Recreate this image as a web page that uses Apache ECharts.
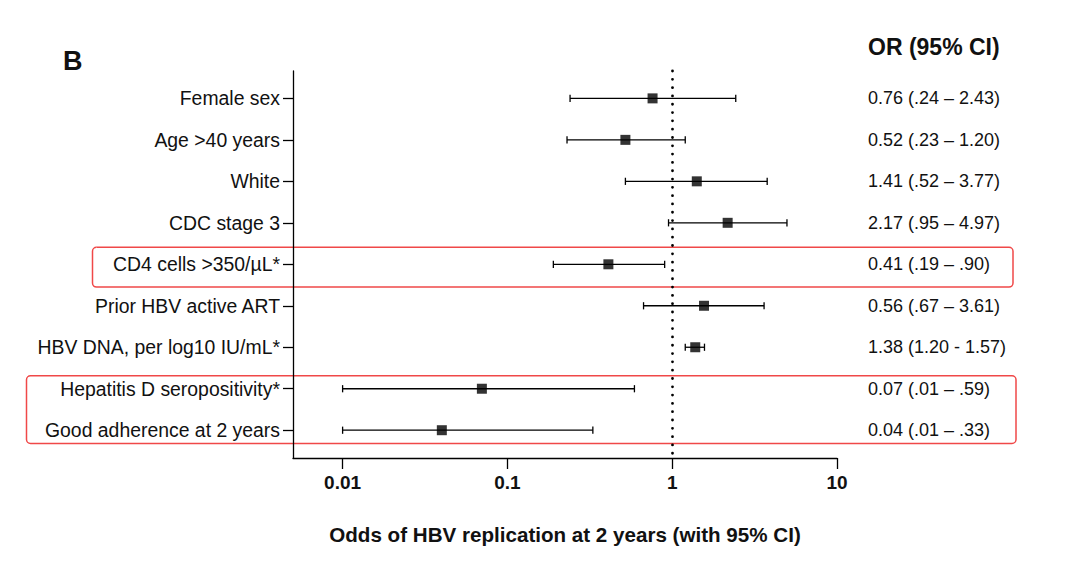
<!DOCTYPE html>
<html><head><meta charset="utf-8">
<script src="https://cdn.jsdelivr.net/npm/echarts@6/dist/echarts.min.js"></script>
<style>html,body{margin:0;padding:0;background:#fff}#c{width:1080px;height:563px}</style>
</head><body><div id="c"></div>
<script>
const categories = ['Female sex','Age >40 years','White','CDC stage 3','CD4 cells >350/\u00b5L*','Prior HBV active ART','HBV DNA, per log10 IU/mL*','Hepatitis D seropositivity*','Good adherence at 2 years'];
const oddsRatio = [0.76, 0.52, 1.41, 2.17, 0.41, 1.56, 1.38, 0.07, 0.04];
const ciLower   = [0.24, 0.23, 0.52, 0.95, 0.19, 0.67, 1.20, 0.01, 0.01];
const ciUpper   = [2.43, 1.20, 3.77, 4.97, 0.90, 3.61, 1.57, 0.59, 0.33];
const ciLabels  = ['0.76 (.24 \u2013 2.43)','0.52 (.23 \u2013 1.20)','1.41 (.52 \u2013 3.77)','2.17 (.95 \u2013 4.97)','0.41 (.19 \u2013 .90)','0.56 (.67 \u2013 3.61)','1.38 (1.20 - 1.57)','0.07 (.01 \u2013 .59)','0.04 (.01 \u2013 .33)'];
const xTicks = [0.01, 0.1, 1, 10];
const xTickLabels = ['0.01', '0.1', '1', '10'];
const refValue = 1;
const highlightRows = [[5, 5], [8, 9]];

const rows = categories.map((_, i) => i + 1);
const FONT = '"Liberation Sans", Arial, sans-serif';
const chart = echarts.init(document.getElementById('c'), null, {renderer: 'svg'});

function xLabel(v) {
  const i = xTicks.findIndex(t => Math.abs(Math.log10(t) - Math.log10(v)) < 1e-6);
  return i >= 0 ? xTickLabels[i] : '';
}

const axisLineStyle = {color: '#000', width: 1.3};

chart.setOption({
  animation: false,
  backgroundColor: '#fff',
  textStyle: {fontFamily: FONT},
  grid: {left: 293, right: 243, top: 71, bottom: 105},
  xAxis: {
    type: 'log', logBase: 10, min: 0.005, max: 10,
    axisLine: {show: true, onZero: false, lineStyle: axisLineStyle},
    axisTick: {show: true, length: 11, lineStyle: axisLineStyle, customValues: xTicks},
    axisLabel: {customValues: xTicks, formatter: xLabel, fontFamily: FONT, fontWeight: 'bold', fontSize: 19, color: '#111', margin: 15},
    splitLine: {show: false},
    minorTick: {show: false},
    name: 'Odds of HBV replication at 2 years (with 95% CI)',
    nameLocation: 'middle', nameGap: 66,
    nameTextStyle: {fontFamily: FONT, fontWeight: 'bold', fontSize: 20.6, color: '#111'}
  },
  yAxis: [{
    type: 'value', inverse: true, min: 0.34, max: 9.67,
    axisLine: {show: true, onZero: false, lineStyle: axisLineStyle},
    axisTick: {show: true, length: 10, lineStyle: axisLineStyle, customValues: rows},
    axisLabel: {customValues: rows, formatter: v => categories[Math.round(v) - 1] || '', fontFamily: FONT, fontSize: 19.4, color: '#111', margin: 13},
    splitLine: {show: false}
  }, {
    type: 'value', inverse: true, min: 0.34, max: 9.67, position: 'right',
    axisLine: {show: false}, axisTick: {show: false},
    axisLabel: {customValues: rows, formatter: v => ciLabels[Math.round(v) - 1] || '', fontFamily: FONT, fontSize: 18, color: '#111', margin: 31},
    splitLine: {show: false}
  }],
  series: [{
    type: 'custom',
    yAxisIndex: 0,
    data: rows.map((r, i) => [ciLower[i], ciUpper[i], r]),
    encode: {x: [0, 1], y: 2},
    renderItem: function (params, api) {
      const lo = api.coord([api.value(0), api.value(2)]);
      const hi = api.coord([api.value(1), api.value(2)]);
      const h = 3.6;
      const st = {stroke: '#000', lineWidth: 1.3, fill: null};
      return {type: 'group', children: [
        {type: 'line', shape: {x1: lo[0], y1: lo[1], x2: hi[0], y2: hi[1]}, style: st},
        {type: 'line', shape: {x1: lo[0], y1: lo[1] - h, x2: lo[0], y2: lo[1] + h}, style: st},
        {type: 'line', shape: {x1: hi[0], y1: hi[1] - h, x2: hi[0], y2: hi[1] + h}, style: st}
      ]};
    },
    silent: true
  }, {
    type: 'scatter',
    yAxisIndex: 0,
    data: rows.map((r, i) => [oddsRatio[i], r]),
    symbol: 'rect', symbolSize: 10,
    itemStyle: {color: '#000'},
    silent: true,
    markLine: {
      silent: true, symbol: 'none',
      label: {show: false},
      lineStyle: {color: '#000', width: 2.8, type: [0.01, 8.3], cap: 'round'},
      data: [{xAxis: refValue}]
    }
  }]
});

const px = (v) => chart.convertToPixel({yAxisIndex: 0}, v);
const boxes = [
  {left: 92.5, right: 1013, top: px(highlightRows[0][0] - 0.41), bottom: px(highlightRows[0][1] + 0.55)},
  {left: 26.5, right: 1016, top: px(highlightRows[1][0] - 0.31), bottom: px(highlightRows[1][1] + 0.32)}
];
chart.setOption({
  graphic: [
    {type: 'text', left: 63, top: 47, style: {text: 'B', font: 'bold 27px ' + FONT, fill: '#111'}},
    {type: 'text', left: 868, top: 35, style: {text: 'OR (95% CI)', font: 'bold 23px ' + FONT, fill: '#111'}}
  ].concat(boxes.map(b => ({
    type: 'rect', silent: true,
    shape: {x: b.left, y: b.top, width: b.right - b.left, height: b.bottom - b.top, r: 4},
    style: {fill: 'none', stroke: '#f04848', lineWidth: 1.5}
  })))
});
</script>
</body></html>
